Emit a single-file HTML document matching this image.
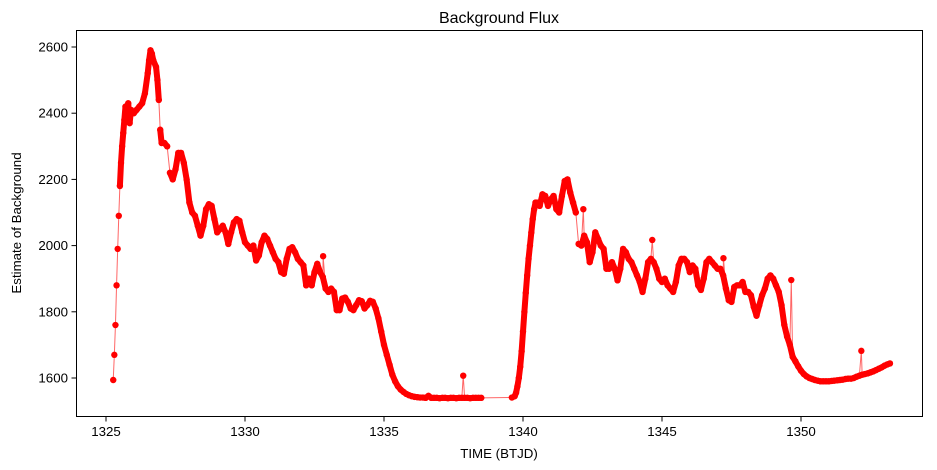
<!DOCTYPE html>
<html><head><meta charset="utf-8"><style>
body{margin:0;background:#fff;}
svg{display:block;font-family:"Liberation Sans","DejaVu Sans",sans-serif;}
</style></head><body>
<svg id="chart" width="937" height="470" viewBox="0 0 937 470" xmlns="http://www.w3.org/2000/svg">
<rect x="0" y="0" width="937" height="470" fill="#fff"/>
<text x="499" y="23" text-anchor="middle" font-size="16">Background Flux</text>
<text x="499" y="458" text-anchor="middle" font-size="13.3">TIME (BTJD)</text>
<text transform="translate(21,223) rotate(-90)" text-anchor="middle" font-size="13.3">Estimate of Background</text>
<g id="plot"></g>
<rect x="76.5" y="30.5" width="846" height="386" fill="none" stroke="#000" stroke-width="1"/>
</svg>
<script>
const xTicks = [1325, 1330, 1335, 1340, 1345, 1350];
const yTicks = [1600, 1800, 2000, 2200, 2400, 2600];
const times = [
1325.26,1325.30,1325.34,1325.38,1325.42,1325.46,1325.50,1325.54,1325.58,1325.62,1325.66,1325.70,1325.75,1325.80,1325.85,1325.90,
1326.0,1326.1,1326.2,1326.3,1326.4,1326.5,1326.55,1326.6,1326.65,1326.7,1326.8,1326.85,1326.9,1326.95,
1327.0,1327.1,1327.2,1327.3,1327.4,1327.5,1327.6,1327.7,1327.8,1327.9,
1328.0,1328.1,1328.2,1328.3,1328.4,1328.5,1328.6,1328.7,1328.8,1328.9,
1329.0,1329.1,1329.2,1329.3,1329.4,1329.5,1329.6,1329.7,1329.8,1329.9,
1330.0,1330.1,1330.2,1330.3,1330.4,1330.5,1330.6,1330.7,1330.8,1330.9,
1331.0,1331.1,1331.2,1331.3,1331.4,1331.5,1331.6,1331.7,1331.8,1331.9,
1332.0,1332.1,1332.2,1332.3,1332.4,1332.5,1332.6,1332.7,1332.8,1332.81,1332.9,
1333.0,1333.1,1333.2,1333.3,1333.4,1333.5,1333.6,1333.7,1333.8,1333.9,
1334.0,1334.1,1334.2,1334.3,1334.4,1334.5,1334.6,1334.7,1334.8,1334.9,
1335.0,1335.1,1335.2,1335.3,1335.4,1335.5,1335.6,1335.7,1335.8,1335.9,
1336.0,1336.1,1336.2,1336.3,1336.4,1336.5,1336.6,1336.7,1336.8,1336.9,
1337.0,1337.1,1337.2,1337.3,1337.4,1337.5,1337.6,1337.7,1337.8,1337.85,1337.9,
1338.0,1338.1,1338.2,1338.3,1338.4,1338.5,
1339.6,1339.7,1339.75,1339.8,1339.85,1339.9,1339.95,
1340.0,1340.05,1340.1,1340.15,1340.2,1340.25,1340.3,1340.35,1340.4,1340.45,1340.5,1340.6,1340.7,1340.8,1340.9,
1341.0,1341.1,1341.2,1341.3,1341.4,1341.5,1341.6,1341.7,1341.8,1341.9,
1342.0,1342.1,1342.17,1342.2,1342.3,1342.4,1342.5,1342.6,1342.7,1342.8,1342.9,
1343.0,1343.1,1343.2,1343.3,1343.4,1343.5,1343.6,1343.7,1343.8,1343.9,
1344.0,1344.1,1344.2,1344.3,1344.4,1344.5,1344.6,1344.65,1344.7,1344.8,1344.9,
1345.0,1345.1,1345.2,1345.3,1345.4,1345.5,1345.6,1345.7,1345.8,1345.9,
1346.0,1346.1,1346.2,1346.3,1346.4,1346.5,1346.6,1346.7,1346.8,1346.9,
1347.0,1347.1,1347.2,1347.21,1347.3,1347.4,1347.5,1347.6,1347.7,1347.8,1347.9,
1348.0,1348.1,1348.2,1348.3,1348.4,1348.5,1348.6,1348.7,1348.8,1348.9,
1349.0,1349.1,1349.2,1349.3,1349.4,1349.5,1349.6,1349.65,1349.7,1349.8,1349.9,
1350.0,1350.1,1350.2,1350.3,1350.4,1350.5,1350.6,1350.7,1350.8,1350.9,
1351.0,1351.1,1351.2,1351.3,1351.4,1351.5,1351.6,1351.7,1351.8,1351.9,
1352.0,1352.1,1352.17,1352.2,1352.3,1352.4,1352.5,1352.6,1352.7,1352.8,1352.9,
1353.0,1353.1,1353.2
];
const flux = [
1594,1670,1760,1880,1990,2090,2180,2250,2300,2340,2380,2420,2400,2430,2370,2410,
2400,2410,2420,2430,2460,2520,2560,2590,2580,2560,2540,2500,2440,2350,
2310,2310,2300,2220,2200,2230,2280,2280,2250,2200,
2130,2100,2090,2060,2030,2060,2110,2125,2120,2080,
2040,2050,2060,2040,2005,2040,2070,2080,2075,2040,
2010,2000,1990,2000,1955,1970,2010,2030,2020,2000,
1980,1960,1950,1920,1915,1960,1990,1995,1980,1960,
1950,1940,1880,1900,1880,1920,1945,1920,1905,1968,1870,
1860,1870,1860,1805,1805,1840,1843,1830,1810,1805,
1820,1835,1832,1810,1820,1833,1830,1810,1780,1740,
1700,1670,1640,1610,1590,1575,1565,1558,1552,1548,
1545,1543,1542,1541,1541,1540,1546,1540,1540,1540,
1539,1540,1540,1539,1540,1540,1539,1540,1540,1607,1540,
1540,1539,1540,1540,1540,1540,
1541,1545,1555,1575,1600,1634,1680,
1740,1800,1857,1910,1960,2000,2040,2080,2110,2130,2130,2120,2155,2150,2120,
2140,2150,2110,2100,2150,2195,2200,2160,2130,2100,
2005,2000,2110,2030,2010,1950,1980,2040,2020,2000,1990,
1930,1930,1950,1930,1895,1930,1990,1980,1960,1950,
1930,1910,1890,1860,1900,1950,1960,2017,1950,1930,1900,
1890,1900,1880,1870,1860,1890,1940,1960,1960,1950,
1920,1940,1930,1880,1866,1900,1950,1960,1950,1940,
1930,1930,1910,1962,1870,1835,1830,1875,1880,1880,1890,
1860,1860,1850,1815,1788,1820,1850,1870,1900,1910,
1900,1880,1860,1820,1760,1725,1700,1896,1664,1650,1635,
1622,1612,1605,1600,1597,1594,1592,1590,1590,1590,
1590,1591,1592,1593,1594,1595,1597,1598,1598,1600,
1604,1607,1682,1610,1612,1614,1617,1620,1624,1628,1632,
1637,1641,1644
];
const NS = "http://www.w3.org/2000/svg";
const plot = document.getElementById('plot');
const svg = document.getElementById('chart');
function xScale(t){ return 106 + (t - 1325) * 27.8; }
function yScale(v){ return 378 - (v - 1600) * 66.2 / 200; }
function mk(tag, attrs){ const e = document.createElementNS(NS, tag); for (const k in attrs) e.setAttribute(k, attrs[k]); return e; }

xTicks.forEach(function(t){
  const x = xScale(t);
  const tk = mk('line', {x1:x, x2:x, y1:416.5, y2:421.5, stroke:'#000', 'stroke-width':1});
  
  
  svg.appendChild(tk);
  const lb = mk('text', {x:x, y:436, 'text-anchor':'middle', 'font-size':13.3});
  lb.textContent = String(t);
  
  
  svg.appendChild(lb);
});
yTicks.forEach(function(v){
  const y = yScale(v);
  const tk = mk('line', {x1:71.5, x2:76.5, y1:y, y2:y, stroke:'#000', 'stroke-width':1});
  
  
  svg.appendChild(tk);
  const lb = mk('text', {x:68, y:y + 4.5, 'text-anchor':'end', 'font-size':13.3});
  lb.textContent = String(v);
  
  
  svg.appendChild(lb);
});

function isSpike(i){
  if (i <= 0 || i >= flux.length - 1) return false;
  const a = flux[i] - flux[i-1], b = flux[i] - flux[i+1];
  return a * b > 0 && Math.min(Math.abs(a), Math.abs(b)) > 40 && Math.abs(flux[i-1] - flux[i+1]) < Math.min(Math.abs(a), Math.abs(b));
}
let d = '';
let band = '';
function seg(i, j){
  const px = xScale(times[i]), py = yScale(flux[i]);
  const x = xScale(times[j]), y = yScale(flux[j]);
  if (Math.hypot(x - px, y - py) < 24) band += 'M' + px.toFixed(2) + ',' + py.toFixed(2) + 'L' + x.toFixed(2) + ',' + y.toFixed(2);
}
times.forEach(function(t, i){
  const x = xScale(t), y = yScale(flux[i]);
  d += (i ? 'L' : 'M') + x.toFixed(2) + ',' + y.toFixed(2);
  if (i > 0) {
    if (isSpike(i)) seg(i-1, i+1);
    else if (!isSpike(i-1)) seg(i-1, i);
  }
});
const line = mk('path', {d:d, fill:'none', stroke:'#ff0000', 'stroke-opacity':0.6, 'stroke-width':1});


plot.appendChild(line);
const bandPath = mk('path', {d:band, fill:'none', stroke:'#ff0000', 'stroke-width':6, 'stroke-linecap':'round', 'stroke-linejoin':'round'});


plot.appendChild(bandPath);
times.forEach(function(t, i){
  const c = mk('circle', {cx:xScale(t).toFixed(2), cy:yScale(flux[i]).toFixed(2), r:3.2, fill:'#ff0000'});
  
  
  plot.appendChild(c);
});
</script>
</body></html>
